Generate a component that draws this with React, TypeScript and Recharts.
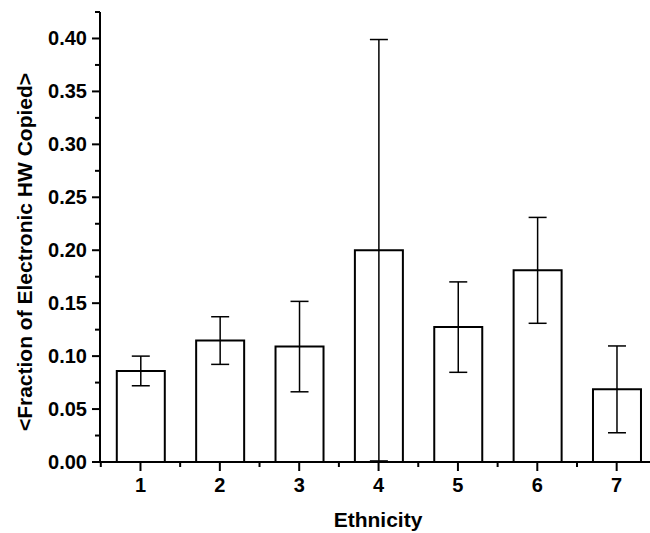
import { BarChart, Bar, XAxis, YAxis, ErrorBar } from 'recharts'

const ethnicity = [1, 2, 3, 4, 5, 6, 7]
const meanFraction = [0.086, 0.1147, 0.109, 0.2, 0.1274, 0.181, 0.0686]
const errFraction = [0.014, 0.0225, 0.0427, 0.199, 0.0427, 0.05, 0.041]

const yTicks = [0, 0.025, 0.05, 0.075, 0.1, 0.125, 0.15, 0.175, 0.2, 0.225, 0.25, 0.275, 0.3, 0.325, 0.35, 0.375, 0.4, 0.425]
const xTicks = [0.5, 1, 1.5, 2, 2.5, 3, 3.5, 4, 4.5, 5, 5.5, 6, 6.5, 7]

const data = ethnicity.map((e, i) => ({ ethnicity: e, mean: meanFraction[i], err: errFraction[i] }))

const FONT = '"Liberation Sans", Arial, sans-serif'

const isMajor = (v: number, step: number) => Math.abs(v / step - Math.round(v / step)) < 1e-6

function YTick({ x, y, payload }: any) {
    const major = isMajor(payload.value, 0.05)
    return (
        <g>
            <line x1={x - (major ? 8 : 5)} x2={x} y1={y} y2={y} stroke="#000" strokeWidth={2} />
            {major && (
                <text x={x - 13} y={y + 7} textAnchor="end" fontSize={20} fontWeight="bold" fontFamily={FONT} fill="#000">
                    {payload.value.toFixed(2)}
                </text>
            )}
        </g>
    )
}

function XTick({ x, y, payload }: any) {
    const major = isMajor(payload.value, 1)
    return (
        <g>
            <line x1={x} x2={x} y1={y} y2={y + (major ? 9 : 5)} stroke="#000" strokeWidth={2} />
            {major && (
                <text x={x} y={y + 30} textAnchor="middle" fontSize={20} fontWeight="bold" fontFamily={FONT} fill="#000">
                    {payload.value}
                </text>
            )}
        </g>
    )
}

export default function App() {
    return (
        <div>
            <style>{'body{margin:0;background:#fff}'}</style>
            <BarChart width={650} height={533} data={data} margin={{ top: 12, right: 0, left: 0, bottom: 0 }}>
                <XAxis
                    dataKey="ethnicity"
                    type="number"
                    domain={[0.49, 7.42]}
                    ticks={xTicks}
                    interval={0}
                    height={71}
                    tickSize={0}
                    tickMargin={0}
                    tick={<XTick />}
                    axisLine={{ stroke: '#000', strokeWidth: 2 }}
                    allowDataOverflow
                    label={{
                        content: ({ viewBox }: any) => (
                            <text
                                x={viewBox.x + viewBox.width / 2 + 3}
                                y={viewBox.y + 65}
                                textAnchor="middle"
                                fontSize={21}
                                fontWeight="bold"
                                fontFamily={FONT}
                                fill="#000"
                            >
                                Ethnicity
                            </text>
                        ),
                    }}
                />
                <YAxis
                    type="number"
                    domain={[0, 0.425]}
                    ticks={yTicks}
                    interval={0}
                    width={100}
                    tickSize={0}
                    tickMargin={0}
                    tick={<YTick />}
                    axisLine={{ stroke: '#000', strokeWidth: 2 }}
                    allowDataOverflow
                    label={{
                        content: ({ viewBox }: any) => {
                            const cx = viewBox.x + 24
                            const cy = viewBox.y + viewBox.height / 2 + 15
                            return (
                                <text
                                    transform={`translate(${cx},${cy}) rotate(-90)`}
                                    textAnchor="middle"
                                    dominantBaseline="central"
                                    fontSize={21}
                                    fontWeight="bold"
                                    fontFamily={FONT}
                                    fill="#000"
                                >
                                    {'<Fraction of Electronic HW Copied>'}
                                </text>
                            )
                        },
                    }}
                />
                <Bar dataKey="mean" fill="#fff" stroke="#000" strokeWidth={2} barSize={48} isAnimationActive={false}>
                    <ErrorBar dataKey="err" width={9} stroke="#000" strokeWidth={1.5} isAnimationActive={false} />
                </Bar>
            </BarChart>
        </div>
    )
}
